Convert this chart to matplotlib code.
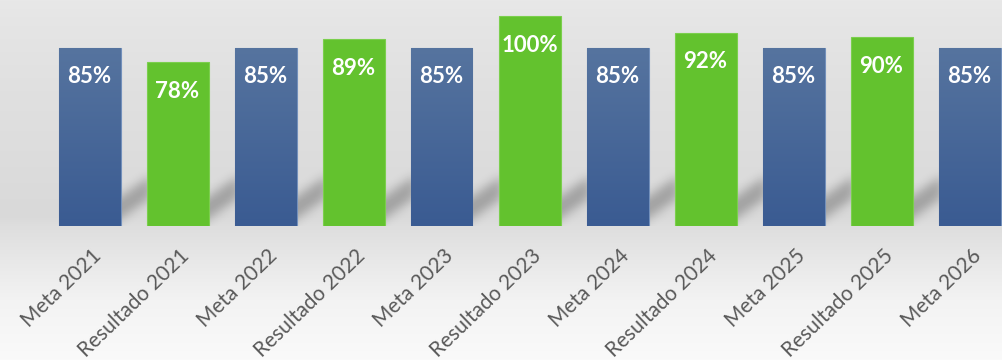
import numpy as np
import matplotlib
matplotlib.use('Agg')
import matplotlib.pyplot as plt
from matplotlib.colors import LinearSegmentedColormap
from matplotlib.transforms import ScaledTranslation

plt.rcParams['font.family'] = ['Lato', 'DejaVu Sans']

# dados do gráfico
categorias = ['Meta 2021', 'Resultado 2021', 'Meta 2022', 'Resultado 2022',
              'Meta 2023', 'Resultado 2023', 'Meta 2024', 'Resultado 2024',
              'Meta 2025', 'Resultado 2025', 'Meta 2026']
valores = [85, 78, 85, 89, 85, 100, 85, 92, 85, 90, 85]

azul_topo = '#56749f'
azul_base = '#3a5b92'
verde = '#63c22e'

W, H = 1002, 360
base_px = 226          # linha de base das barras (px a partir do topo)
px_por_x = 88.0        # distância entre barras
px_por_pct = 2.1
largura = 62 / px_por_x

fig = plt.figure(figsize=(W / 100, H / 100), dpi=100)

# fundo em degradê
bg = fig.add_axes([0, 0, 1, 1])
linhas = np.arange(H)
cinza = np.interp(linhas, [0, 25, 90, 150, 215, 226, 260, 300, 359],
                  [232, 229, 224, 221, 217, 222, 232, 243, 250]) / 255
img = np.repeat(cinza[:, None, None], 3, axis=2)
bg.imshow(img, aspect='auto', extent=[0, 1, 0, 1])
bg.axis('off')

ax = fig.add_axes([0, (H - base_px) / H, 1, base_px / H])
ax.patch.set_alpha(0)
x = np.arange(len(categorias))
x0 = -89.5 / px_por_x
x1 = (W - 89.5) / px_por_x
ytop = base_px / px_por_pct

# sombra suave à direita de cada barra
xs = np.linspace(x0, x1, W)
hs = np.arange(base_px)
XX, HH = np.meshgrid(xs, hs)
mascara = np.zeros_like(XX)
for i in x:
    d = (XX - (i + largura / 2)) * px_por_x
    baixo = 7 + 0.7 * d
    dentro = (d > -12) & (d < 30) & (HH >= baixo) & (HH <= baixo + 22)
    mascara[dentro] = 1.0


def borrar(a, sigma):
    r = int(3 * sigma)
    k = np.exp(-0.5 * (np.arange(-r, r + 1) / sigma) ** 2)
    k /= k.sum()
    a = np.apply_along_axis(lambda v: np.convolve(v, k, mode='same'), 0, a)
    a = np.apply_along_axis(lambda v: np.convolve(v, k, mode='same'), 1, a)
    return a


sombra = np.zeros((base_px, W, 4))
sombra[..., 3] = 0.26 * borrar(mascara, 5)
ax.imshow(sombra, extent=[x0, x1, 0, ytop], origin='lower', aspect='auto', zorder=1)

cores = [azul_base if c.startswith('Meta') else verde for c in categorias]
bordas = ['#7390bb' if c.startswith('Meta') else '#7bcf4d' for c in categorias]
barras = ax.bar(x, valores, width=largura, color=cores, edgecolor=bordas,
                linewidth=0.8, zorder=3)

# degradê vertical nas barras de meta
cmap_azul = LinearSegmentedColormap.from_list('azul', [azul_base, azul_topo])
grad = np.linspace(0, 1, 256)[:, None]
for b, c in zip(barras, categorias):
    if c.startswith('Meta'):
        im = ax.imshow(grad, cmap=cmap_azul, origin='lower', aspect='auto',
                       extent=[b.get_x(), b.get_x() + b.get_width(), 0, b.get_height()],
                       zorder=3.5)
        im.set_clip_path(b)

for i, v in zip(x, valores):
    ax.annotate(f'{v}%', (i, v), xytext=(0, -21), textcoords='offset points',
                ha='center', va='center', color='white', fontsize=16,
                fontweight='bold', zorder=5)

ax.set_xlim(x0, x1)
ax.set_ylim(0, ytop)
ax.set_xticks(x, categorias, rotation=44, ha='right', va='top',
              rotation_mode='anchor', fontsize=15, color='#595959')
ax.tick_params(length=0, pad=14)
desloc = ScaledTranslation(2 / 100, 0, fig.dpi_scale_trans)
for lbl in ax.get_xticklabels():
    lbl.set_transform(lbl.get_transform() + desloc)
ax.set_yticks([])
for s in ax.spines.values():
    s.set_visible(False)

fig.savefig('out.png', dpi=100)
